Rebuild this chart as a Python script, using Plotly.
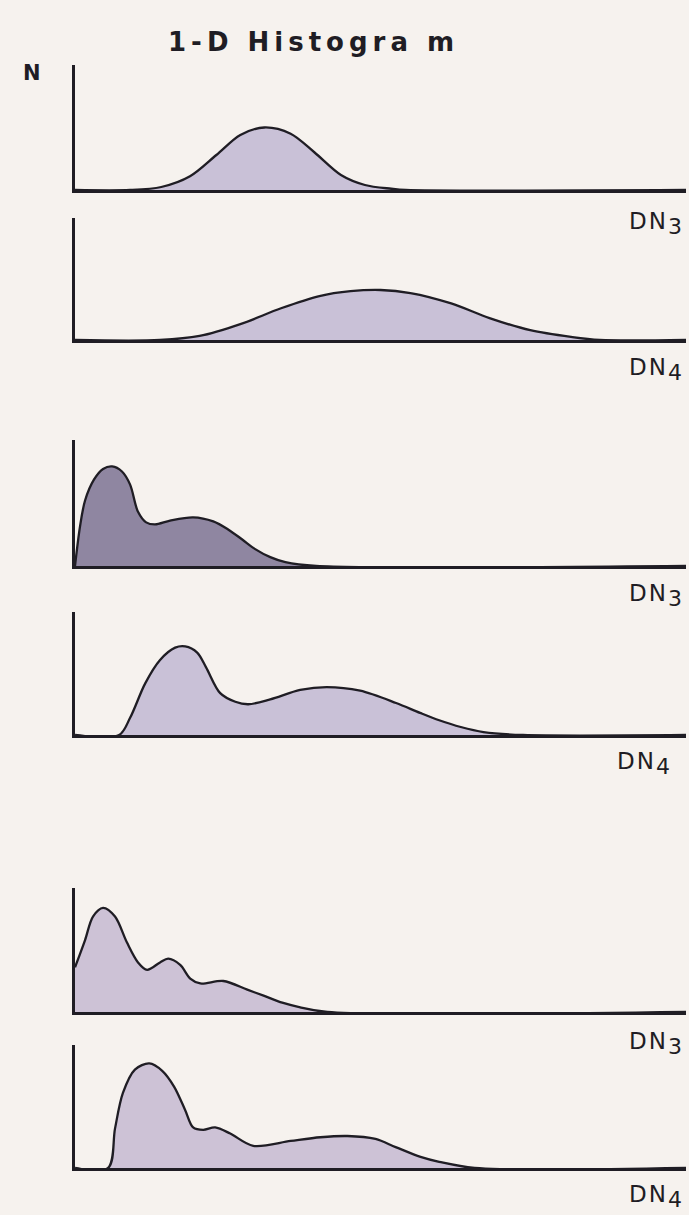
import plotly.graph_objects as go

# ---- histogram samples: brightness value (DN) vs. relative count N ----
# pair 1
dn3_a = [0, 23, 36, 48, 59, 69, 79, 90, 100, 111, 121, 132, 138, 255]
n3_a = [0, 0, 2.4, 11, 28, 44, 50, 45, 30, 12, 4, 1, 0, 0]
dn4_a = [0, 35.5, 52, 69, 86, 102, 115, 127.5, 140, 157, 173, 190, 207, 219, 255]
n4_a = [0, 0, 3.3, 13, 26, 36, 40, 41, 38.5, 30, 18, 8, 2.5, 0, 0]

# pair 2
dn3_b = [0, 2.1, 4.2, 7.9, 11.7, 15.5, 19.6, 23, 26.3, 29.7, 33.4, 39.7, 49.3,
         57.7, 63.9, 69.8, 75.2, 81.5, 87.8, 100.7, 255]
n3_b = [0, 31.5, 52, 68.5, 77, 79, 75, 64.6, 43, 34.6, 33, 36, 38.6,
        35.4, 29, 21, 13.4, 7, 3, 0, 0]
dn4_b = [0, 18.4, 23, 29.3, 35.5, 41.8, 46, 51, 54.7, 60.6, 66.9, 72.3, 81.5,
         94, 105, 119, 134, 144, 152, 161, 170.5, 187, 255]
n4_b = [0, 0, 14, 42, 61, 71, 72, 67, 55, 34, 27, 25, 29,
        36.6, 39, 36, 26, 18, 12, 6.5, 2.4, 0, 0]

# pair 3
dn3_c = [0, 4.2, 7.5, 11.7, 16.7, 21.7, 26.3, 30.1, 35.5, 38.9, 43.9, 48.1,
         52.3, 61.9, 71.9, 79, 86.5, 93.6, 105.3, 255]
n3_c = [36, 58, 77, 84, 77, 56, 40, 34, 40, 43, 38, 27,
        23, 25, 18, 13, 7.5, 4, 0, 0]
dn4_c = [0, 13.8, 16.7, 20, 25, 31, 36.4, 41.4, 46, 49.3, 53.5, 58.5, 64.8,
         74.4, 90, 102.4, 113.7, 125.4, 133.8, 144.2, 152, 166.8, 255]
n4_c = [0, 0, 32, 61, 80, 85, 79, 66, 47, 33, 31, 33, 28,
        18, 22, 25, 26, 23.6, 17, 9, 5, 0, 0]

series = [(dn3_a, n3_a), (dn4_a, n4_a), (dn3_b, n3_b),
          (dn4_b, n4_b), (dn3_c, n3_c), (dn4_c, n4_c)]
band_numbers = ["3", "4"] * 3
fills = ["#c9c1d7", "#c9c1d7", "#8f86a1", "#c9c1d7", "#cdc2d6", "#cdc2d6"]

W, H = 689, 1215
BG = "#f6f2ee"
INK = "#1f1d24"
FONT = "DejaVu Sans"

# panel frames in pixels: (top of N axis, baseline)
frames = [(65, 190), (218, 340), (440, 566), (612, 735), (888, 1012), (1045, 1168)]
label_y = [224, 369, 596, 763, 1043, 1196]
label_right = [684, 684, 684, 672, 684, 684]
x_left, x_right = 75, 686


def axis_label(band):
    # wide-set "DN" with a full-size, lowered band number
    return ('<span style="letter-spacing:2px">DN</span>'
            '<sub><span style="font-size:22px">' + band + '</span></sub>')


fig = go.Figure()
for i, ((dn, n), fill) in enumerate(zip(series, fills)):
    k = "" if i == 0 else str(i + 1)
    fig.add_trace(go.Scatter(
        x=dn, y=n, xaxis="x" + k, yaxis="y" + k,
        mode="lines", line=dict(color=INK, width=2.3, shape="spline", smoothing=0.9),
        fill="tozeroy", fillcolor=fill, hoverinfo="skip", showlegend=False,
    ))
    top, base = frames[i]
    fig.update_layout({
        "xaxis" + k: dict(domain=[x_left / W, x_right / W], range=[0, 255],
                          anchor="y" + k, showline=True, linecolor=INK, linewidth=2.6,
                          showgrid=False, zeroline=False, showticklabels=False, ticks=""),
        "yaxis" + k: dict(domain=[1 - base / H, 1 - top / H], range=[0, 100],
                          anchor="x" + k, showline=True, linecolor=INK, linewidth=2.6,
                          showgrid=False, zeroline=False, showticklabels=False, ticks=""),
    })
    fig.add_annotation(
        x=label_right[i] / W, y=1 - label_y[i] / H, xref="paper", yref="paper",
        text=axis_label(band_numbers[i]), showarrow=False,
        xanchor="right", yanchor="middle",
        font=dict(family=FONT, size=23, color=INK),
    )

fig.add_annotation(
    x=313 / W, y=1 - 42 / H, xref="paper", yref="paper",
    text='<span style="letter-spacing:5px">1-D Histogra m</span>',
    showarrow=False, xanchor="center", yanchor="middle",
    font=dict(family=FONT, size=26, color=INK, weight="bold"),
)
fig.add_annotation(
    x=32 / W, y=1 - 73 / H, xref="paper", yref="paper", text="N",
    showarrow=False, xanchor="center", yanchor="middle",
    font=dict(family=FONT, size=21, color=INK, weight="bold"),
)

fig.update_layout(
    width=W, height=H, margin=dict(l=0, r=0, t=0, b=0),
    paper_bgcolor=BG, plot_bgcolor=BG,
)
fig.write_html("out.html")
